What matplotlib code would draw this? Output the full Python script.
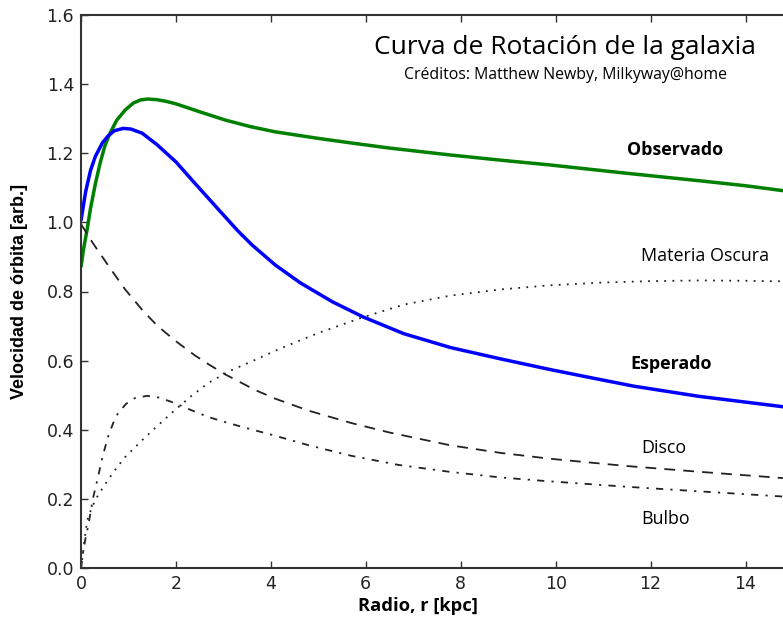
import numpy as np
import matplotlib.pyplot as plt

# radius [kpc] and velocities
r_obs = [0.0, 0.05, 0.13, 0.2, 0.3, 0.4, 0.5, 0.6, 0.75, 0.93, 1.1, 1.25, 1.4, 1.6, 1.8, 2.0,
         2.5, 3.04, 3.57, 4.09, 5.0, 5.68, 6.5, 7.78, 8.84, 9.89, 11.5, 13.06, 14.0, 15.0]
v_obs = [0.87, 0.92, 0.98, 1.04, 1.11, 1.17, 1.22, 1.255, 1.295, 1.325, 1.345, 1.354, 1.357, 1.355, 1.35, 1.343,
         1.32, 1.296, 1.277, 1.262, 1.243, 1.23, 1.215, 1.195, 1.18, 1.166, 1.142, 1.12, 1.106, 1.088]

r_esp = [0.0, 0.04, 0.1, 0.2, 0.3, 0.45, 0.57, 0.7, 0.89, 1.05, 1.29, 1.6, 2.0, 2.4, 2.8, 3.3, 3.6,
         4.09, 4.62, 5.3, 5.95, 6.8, 7.78, 8.84, 9.89, 10.8, 11.65, 13.0, 14.0, 15.0]
v_esp = [1.005, 1.04, 1.09, 1.15, 1.19, 1.23, 1.25, 1.265, 1.272, 1.27, 1.258, 1.225, 1.175, 1.113, 1.052, 0.976, 0.935,
         0.877, 0.825, 0.77, 0.726, 0.678, 0.638, 0.605, 0.574, 0.549, 0.526, 0.497, 0.48, 0.463]

r_disco = [0.0, 0.25, 0.6, 0.93, 1.3, 1.6, 1.98, 2.4, 2.68, 3.04, 3.67, 4.09, 4.8, 5.68, 6.5,
           7.78, 8.84, 9.89, 11.5, 13.06, 15.0]
v_disco = [0.995, 0.94, 0.87, 0.806, 0.745, 0.702, 0.658, 0.615, 0.59, 0.56, 0.515, 0.49, 0.455, 0.42, 0.392,
           0.355, 0.333, 0.316, 0.295, 0.278, 0.258]

r_bulbo = [0.0, 0.04, 0.1, 0.15, 0.25, 0.36, 0.45, 0.57, 0.68, 0.78, 0.95, 1.14, 1.39, 1.65, 1.98,
           2.3, 2.68, 3.04, 3.4, 4.03, 4.8, 5.68, 6.7, 7.78, 8.84, 9.75, 11.5, 13.0, 15.0]
v_bulbo = [0.0, 0.043, 0.09, 0.12, 0.2, 0.264, 0.32, 0.38, 0.42, 0.448, 0.475, 0.492, 0.498, 0.493, 0.477,
           0.458, 0.437, 0.422, 0.408, 0.385, 0.355, 0.325, 0.298, 0.278, 0.262, 0.252, 0.235, 0.222, 0.205]

r_dm = [0.0, 0.04, 0.1, 0.15, 0.3, 0.45, 0.57, 0.75, 0.93, 1.29, 1.6, 1.98, 2.3, 2.68, 3.1, 3.6,
        4.2, 5.0, 5.95, 6.8, 7.78, 8.84, 9.89, 11.0, 12.0, 13.06, 14.0, 15.0]
v_dm = [0.0, 0.04, 0.11, 0.148, 0.197, 0.23, 0.255, 0.29, 0.321, 0.37, 0.41, 0.457, 0.495, 0.535, 0.568, 0.598,
        0.635, 0.68, 0.726, 0.762, 0.788, 0.806, 0.818, 0.826, 0.83, 0.832, 0.831, 0.829]

fig = plt.figure(figsize=(7.83, 6.19), dpi=100)
ax = fig.add_axes([81 / 783, 51 / 619, 712 / 783, 553 / 619])

ax.plot(r_obs, v_obs, color="green", lw=2.5, solid_capstyle="butt")
ax.plot(r_esp, v_esp, color="blue", lw=2.5, solid_capstyle="butt")
ax.plot(r_disco, v_disco, color="#222222", ls="--", lw=1.3, dashes=(6, 4.5))
ax.plot(r_bulbo, v_bulbo, color="#222222", ls="-.", lw=1.3, dashes=(4, 4, 1.2, 4))
ax.plot(r_dm, v_dm, color="#222222", ls=":", lw=1.3, dashes=(1, 3.5))

ax.set_xlim(0, 15)
ax.set_ylim(0, 1.6)
ax.set_xticks([0, 2, 4, 6, 8, 10, 12, 14])
ax.set_yticks([0.0, 0.2, 0.4, 0.6, 0.8, 1.0, 1.2, 1.4, 1.6])
ax.set_yticklabels(["0.0", "0.2", "0.4", "0.6", "0.8", "1.0", "1.2", "1.4", "1.6"])
ax.tick_params(direction="in", length=5, width=1, colors="#333333", labelcolor="#222222",
               labelsize=12.5, top=True, right=True, pad=5)
for s in ax.spines.values():
    s.set_color("#333333")
    s.set_linewidth(1.5)

ax.set_xlabel("Radio, r [kpc]", family="Open Sans", weight="bold", fontsize=13.2, va="top")
ax.xaxis.set_label_coords((418 - 81) / 712, -0.052)
ax.set_ylabel("Velocidad de órbita [arb.]", family="Liberation Sans", weight="bold", fontsize=13)
ax.yaxis.set_label_coords(-0.075, 0.5)

fig.text(565 / 783, 1 - 47 / 619, "Curva de Rotación de la galaxia", family="Open Sans",
         fontsize=19, ha="center", va="center")
fig.text(565 / 783, 1 - 75 / 619, "Créditos: Matthew Newby, Milkyway@home", family="Open Sans",
         fontsize=11.4, ha="center", va="center")

lab_font = dict(family="Open Sans", fontsize=12.9, va="center", transform=fig.transFigure)
fig.text(627 / 783, 1 - 150 / 619, "Observado", weight="bold", **lab_font)
fig.text(641 / 783, 1 - 256 / 619, "Materia Oscura", **lab_font)
fig.text(630 / 783, 1 - 364 / 619, "Esperado", weight="bold", **lab_font)
fig.text(641 / 783, 1 - 448 / 619, "Disco", **lab_font)
fig.text(641 / 783, 1 - 519 / 619, "Bulbo", **lab_font)

fig.savefig("out.png", dpi=100)
